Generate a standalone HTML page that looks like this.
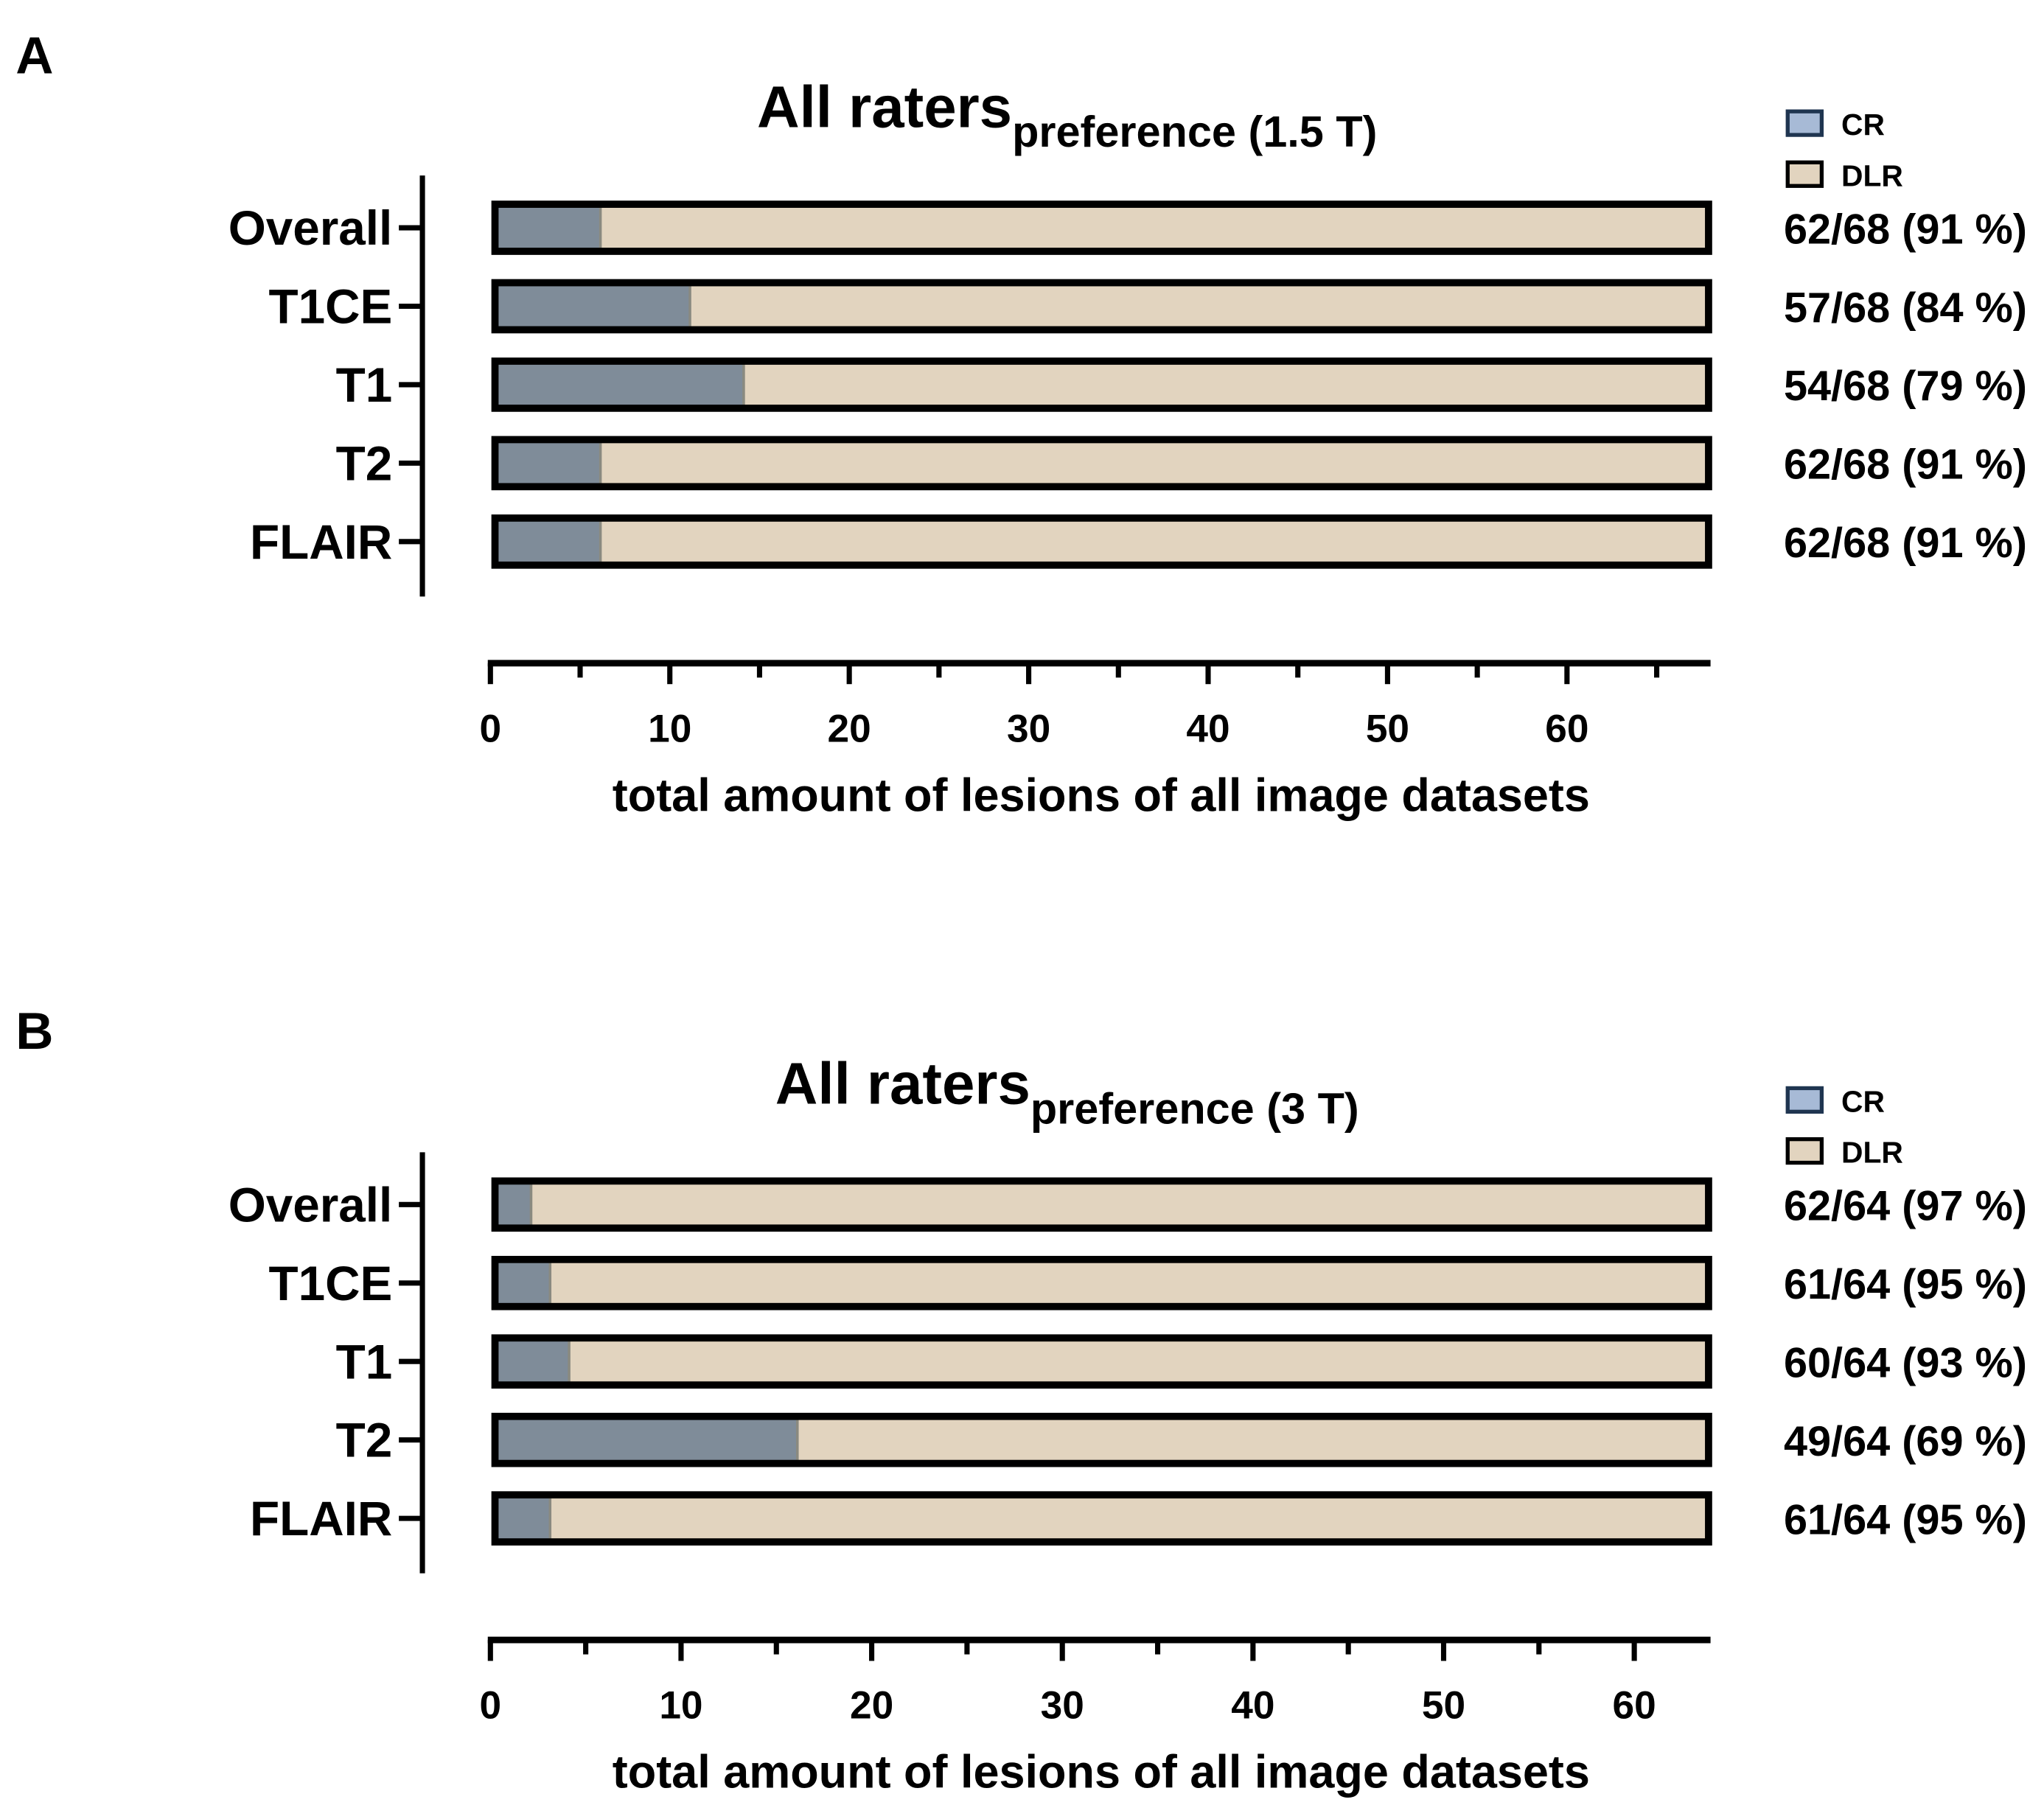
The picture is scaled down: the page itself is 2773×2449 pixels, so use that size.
<!DOCTYPE html>
<html><head><meta charset="utf-8"><style>
html,body{margin:0;padding:0;background:#fff;}
svg{display:block;font-family:"Liberation Sans",Arial,sans-serif;font-weight:bold;}
</style></head><body>
<svg id="chart" width="2773" height="2449" viewBox="0 0 1563 1380" xmlns="http://www.w3.org/2000/svg">
<text x="12" y="56" font-size="40">A</text>
<text x="12" y="802" font-size="40">B</text>
</svg>
<script>
const categories = ["Overall","T1CE","T1","T2","FLAIR"];
const crA = [6, 11, 14, 6, 6];
const crB = [2, 3, 4, 16, 3];
const totalA = 68;
const totalB = 64;
const labelsA = ["62/68 (91 %)","57/68 (84 %)","54/68 (79 %)","62/68 (91 %)","62/68 (91 %)"];
const labelsB = ["62/64 (97 %)","61/64 (95 %)","60/64 (93 %)","49/64 (69 %)","61/64 (95 %)"];
const ticksA = [0,10,20,30,40,50,60];
const ticksB = [0,10,20,30,40,50,60];

const NS = "http://www.w3.org/2000/svg";
const svg = document.getElementById('chart');
function mk(tag, attrs, parent, text){
  const e = document.createElementNS(NS, tag);
  for (const k in attrs) e.setAttribute(k, attrs[k]);
  if (text !== undefined) e.textContent = text;
  (parent||svg).appendChild(e);
  return e;
}

function panel(dy, cr, total, labels, ticks, subtitle, id){
  const g = mk('g', {transform:'translate(0,'+dy+')'});
  
  
  const x0 = 377, x1 = 1308;
  const xs = v => x0 + (x1 - x0) * v / total;
  const yc = i => 174 + 60 * i;
  // title
  const t = mk('text', {x:816, y:97, 'font-size':45, 'text-anchor':'middle'}, g);
  
  
  mk('tspan', {}, t, 'All raters');
  mk('tspan', {'font-size':33.5, dy:15}, t, subtitle);
  // legend
  const leg = [["CR","#a7bad6","#1f3550",94],["DLR","#e2d4bf","#000",133]];
  leg.forEach(l=>{
    const r = mk('rect', {x:1367, y:l[3]-9, width:26, height:18, fill:l[1], stroke:l[2], 'stroke-width':3}, g);
    
    
    const tx = mk('text', {x:1408, y:l[3]+9, 'font-size':23}, g, l[0]);
    
    
  });
  // y axis
  const ya = mk('line', {x1:323, y1:134, x2:323, y2:456, stroke:'#000', 'stroke-width':4}, g);
  
  
  categories.forEach((c,i)=>{
    const y = yc(i);
    mk('line', {x1:305, y1:y, x2:323, y2:y, stroke:'#000', 'stroke-width':4}, g);
    const lb = mk('text', {x:300, y:y+13, 'font-size':37, 'text-anchor':'end'}, g, c);
    
    
    const h = 35;
    const b1 = mk('rect', {x:x0+3, y:y-h/2, width:xs(cr[i])-x0-3, height:h, fill:'#7f8c99'}, g);
    
    
    const b2 = mk('rect', {x:xs(cr[i]), y:y-h/2, width:x1-xs(cr[i]), height:h, fill:'#e2d4bf'}, g);
    
    
    mk('line', {x1:xs(cr[i]), y1:y-h/2, x2:xs(cr[i]), y2:y+h/2, stroke:'#8a8a80', 'stroke-width':2}, g);
    mk('rect', {x:x0+1.5, y:y-18, width:x1-x0-3, height:36, fill:'none', stroke:'#000', 'stroke-width':5.5}, g);
    const vl = mk('text', {x:1364, y:y+12, 'font-size':32.5}, g, labels[i]);
    
    
  });
  // x axis
  const xa = mk('line', {x1:373, y1:507, x2:x1, y2:507, stroke:'#000', 'stroke-width':5}, g);
  
  
  const ax0 = 375, axs = v => ax0 + (x1 - ax0) * v / total;
  for (let v = 0; v <= total; v += 5){
    const major = v % 10 === 0;
    mk('line', {x1:axs(v), y1:507, x2:axs(v), y2:major?523:518, stroke:'#000', 'stroke-width':4}, g);
  }
  ticks.forEach(v=>{
    const tl = mk('text', {x:axs(v), y:567, 'font-size':30, 'text-anchor':'middle'}, g, String(v));
    
    
  });
  const at = mk('text', {x:842, y:620, 'font-size':35.5, 'text-anchor':'middle'}, g, 'total amount of lesions of all image datasets');
  
  
}
panel(0, crA, totalA, labelsA, ticksA, 'preference (1.5 T)', 'a');
panel(747, crB, totalB, labelsB, ticksB, 'preference (3 T)', 'b');
</script>
</body></html>
